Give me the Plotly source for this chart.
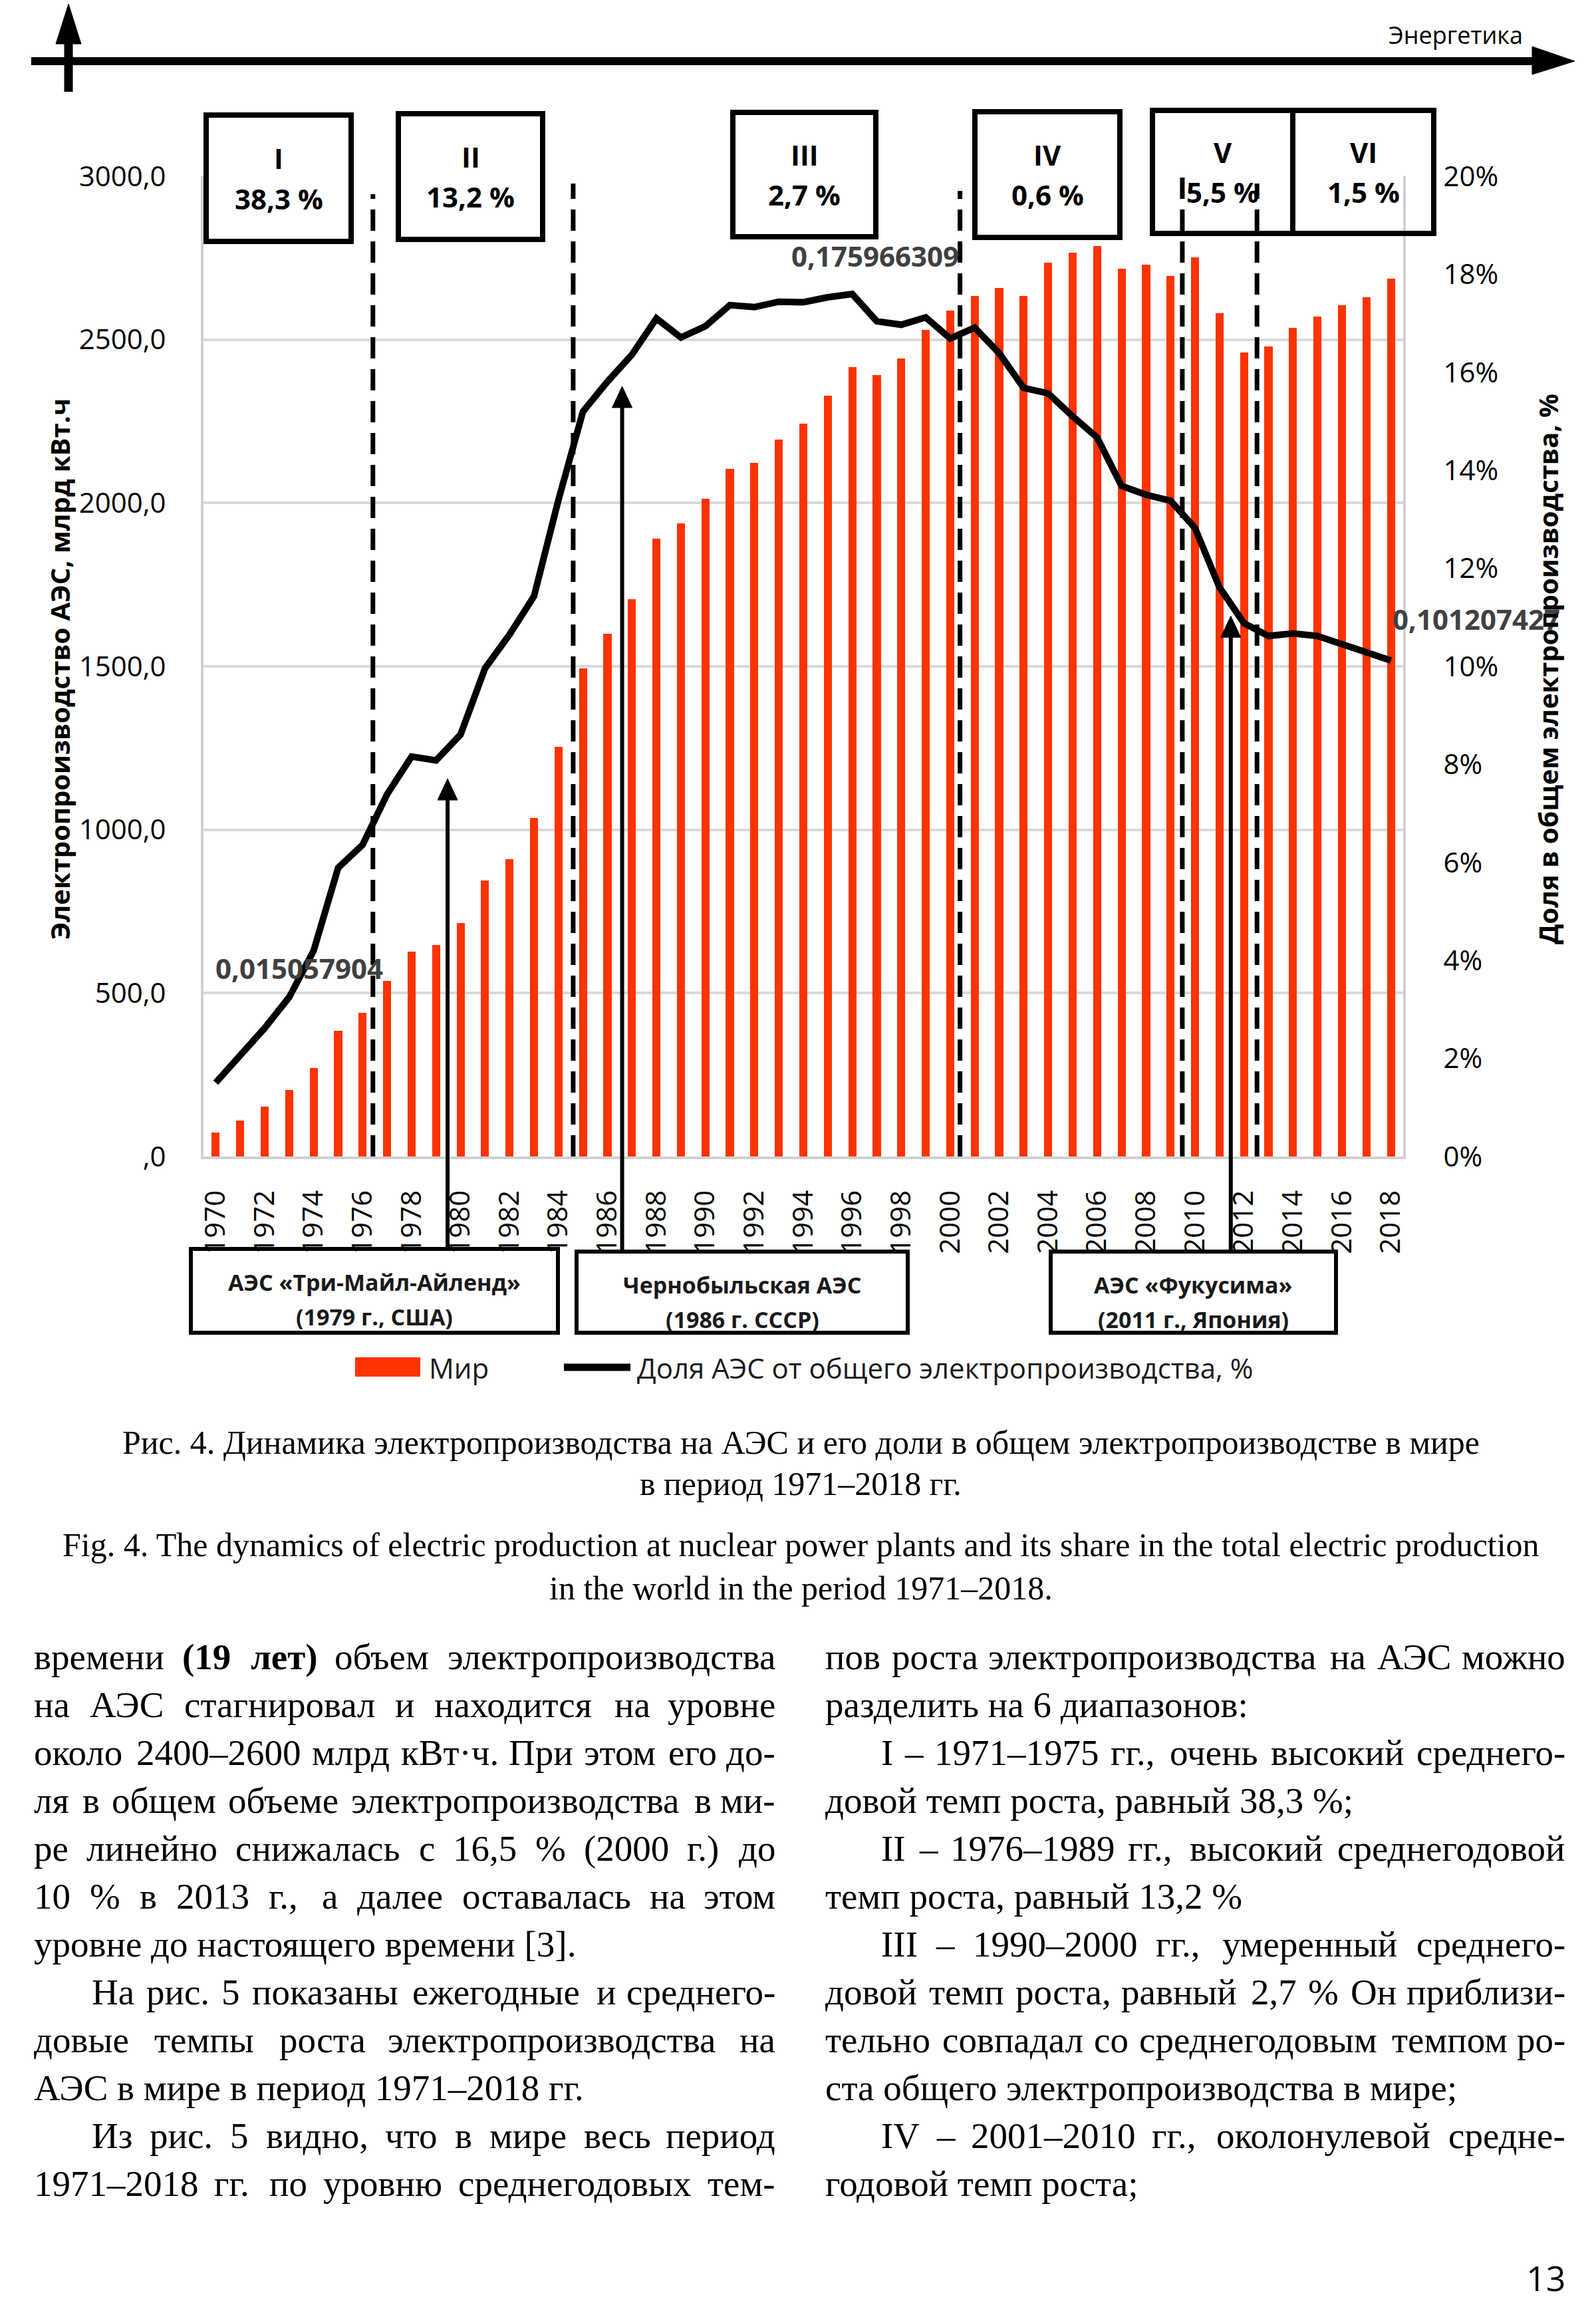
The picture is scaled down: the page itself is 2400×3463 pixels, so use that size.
import plotly.graph_objects as go

# ---------------- data ----------------
years = list(range(1970, 2019))
production = [74, 110, 153, 204, 271, 384, 440, 538, 626, 648,
              714, 844, 909, 1036, 1253, 1494, 1600, 1705, 1891, 1937,
              2012, 2105, 2123, 2194, 2243, 2329, 2415, 2391, 2443, 2530,
              2588, 2633, 2658, 2633, 2735, 2765, 2787, 2717, 2729, 2695,
              2752, 2580, 2460, 2478, 2535, 2570, 2606, 2630, 2687]
share = [0.01506, 0.0208, 0.0262, 0.0325, 0.0420, 0.0589, 0.0636, 0.0739, 0.0816, 0.0808,
         0.0861, 0.0996, 0.1065, 0.1143, 0.1340, 0.1520, 0.1581, 0.1636, 0.1710, 0.1671,
         0.1694, 0.1737, 0.1733, 0.1744, 0.1743, 0.1753, 0.17597, 0.1704, 0.1697, 0.1712,
         0.1669, 0.1691, 0.1639, 0.1568, 0.1557, 0.1510, 0.1467, 0.1368, 0.1350, 0.1338,
         0.1282, 0.1161, 0.1088, 0.1062, 0.1067, 0.1062, 0.1045, 0.1028, 0.1012]

left_tickvals = [0, 500, 1000, 1500, 2000, 2500, 3000]
left_ticktext = [",0", "500,0", "1000,0", "1500,0", "2000,0", "2500,0", "3000,0"]
right_tickvals = [0, 0.02, 0.04, 0.06, 0.08, 0.10, 0.12, 0.14, 0.16, 0.18, 0.20]
right_ticktext = ["0%", "2%", "4%", "6%", "8%", "10%", "12%", "14%", "16%", "18%", "20%"]
year_ticks = list(range(1970, 2019, 2))

period_names = ["I", "II", "III", "IV", "V", "VI"]
period_rates = ["38,3 %", "13,2 %", "2,7 %", "0,6 %", "5,5 %", "1,5 %"]
period_bounds = [1976.42, 1984.6, 2000.4, 2009.48, 2012.53]

event_line1 = ["АЭС «Три-Майл-Айленд»", "Чернобыльская АЭС", "АЭС «Фукусима»"]
event_line2 = ["(1979 г., США)", "(1986 г. СССР)", "(2011 г., Япония)"]
event_arrow_x = [1979.47, 1986.6, 2011.46]
event_arrow_tip = [1156, 2357, 1654]

data_labels = ["0,015057904", "0,175966309", "0,101207427"]

left_text = [
    ("времени <b>(19 лет)</b> объем электропроизводства", False, True),
    ("на АЭС стагнировал и находится на уровне", False, True),
    ("около 2400–2600 млрд кВт·ч. При этом его до-", False, True),
    ("ля в общем объеме электропроизводства в ми-", False, True),
    ("ре линейно снижалась с 16,5 % (2000 г.) до", False, True),
    ("10 % в 2013 г., а далее оставалась на этом", False, True),
    ("уровне до настоящего времени [3].", False, False),
    ("На рис. 5 показаны ежегодные и среднего-", True, True),
    ("довые темпы роста электропроизводства на", False, True),
    ("АЭС в мире в период 1971–2018 гг.", False, False),
    ("Из рис. 5 видно, что в мире весь период", True, True),
    ("1971–2018 гг. по уровню среднегодовых тем-", False, True),
]
right_text = [
    ("пов роста электропроизводства на АЭС можно", False, True),
    ("разделить на 6 диапазонов:", False, False),
    ("I – 1971–1975 гг., очень высокий среднего-", True, True),
    ("довой темп роста, равный 38,3 %;", False, False),
    ("II – 1976–1989 гг., высокий среднегодовой", True, True),
    ("темп роста, равный 13,2 %", False, False),
    ("III – 1990–2000 гг., умеренный среднего-", True, True),
    ("довой темп роста, равный 2,7 % Он приблизи-", False, True),
    ("тельно совпадал со среднегодовым темпом ро-", False, True),
    ("ста общего электропроизводства в мире;", False, False),
    ("IV – 2001–2010 гг., околонулевой средне-", True, True),
    ("годовой темп роста;", False, False),
]

# ---------------- geometry helpers ----------------
W, H = 2400, 3463
L, R, T, B = 306, 2110, 265, 1739


def px(x):
    return (x - L) / (R - L)


def py(y):
    return (B - y) / (B - T)


def yrx(yr):
    return (yr - 1969.5) / 49.0


def valy(v):
    return v / 3000.0


SANS = "Open Sans"
SERIF = "Liberation Serif"
RED = "#FF3300"

fig = go.Figure()
fig.add_trace(go.Bar(x=years, y=production, width=0.33, marker=dict(color=RED, line=dict(width=0)),
                     name="Мир", showlegend=False))
fig.add_trace(go.Scatter(x=years, y=share, yaxis="y2", mode="lines",
                         line=dict(color="black", width=10),
                         name="Доля АЭС от общего электропроизводства, %", showlegend=False))

shapes = []
ann = []

# dashed period boundaries
dash_tops = [292, 276, 287, 267, 276]
for b, top in zip(period_bounds, dash_tops):
    shapes.append(dict(type="line", xref="paper", yref="paper", x0=yrx(b), x1=yrx(b),
                       y0=0, y1=py(top), line=dict(color="black", width=7, dash="32px,16px"),
                       layer="above"))

# period boxes
boxes = [(310, 173, 528, 363), (599, 171, 816, 360), (1102, 169, 1317, 356),
         (1466, 168, 1684, 357), (1733, 166, 1944, 351), (1944, 166, 2156, 351)]
for (x0, y0, x1, y1), nm, rt in zip(boxes, period_names, period_rates):
    shapes.append(dict(type="rect", xref="paper", yref="paper", x0=px(x0), x1=px(x1),
                       y0=py(y1), y1=py(y0), line=dict(color="black", width=8),
                       fillcolor="rgba(0,0,0,0)", layer="above"))
    h = y1 - y0
    cx = (x0 + x1) / 2
    ann.append(dict(text="<b>%s</b>" % nm, x=px(cx), y=py(y0 + 0.34 * h), xref="paper", yref="paper",
                    showarrow=False, xanchor="center", yanchor="middle",
                    font=dict(family=SANS, size=42, color="black")))
    ann.append(dict(text="<b>%s</b>" % rt, x=px(cx), y=py(y0 + 0.66 * h), xref="paper", yref="paper",
                    showarrow=False, xanchor="center", yanchor="middle",
                    font=dict(family=SANS, size=42, color="black")))

# event boxes and arrows
ev_boxes = [(287, 1878, 839, 2004), (867, 1882, 1365, 2004), (1580, 1882, 2009, 2004)]
for (x0, y0, x1, y1), t1, t2, ax, tip in zip(ev_boxes, event_line1, event_line2,
                                              event_arrow_x, event_arrow_tip):
    shapes.append(dict(type="rect", xref="paper", yref="paper", x0=px(x0), x1=px(x1),
                       y0=py(y1), y1=py(y0), line=dict(color="black", width=6),
                       fillcolor="rgba(0,0,0,0)"))
    cx = (x0 + x1) / 2
    ann.append(dict(text="<b>%s</b>" % t1, x=px(cx), y=py(y0 + 50), xref="paper", yref="paper",
                    showarrow=False, xanchor="center", yanchor="middle",
                    font=dict(family=SANS, size=34, color="#1a1a1a")))
    ann.append(dict(text="<b>%s</b>" % t2, x=px(cx), y=py(y0 + 102), xref="paper", yref="paper",
                    showarrow=False, xanchor="center", yanchor="middle",
                    font=dict(family=SANS, size=34, color="#1a1a1a")))
    xa = yrx(ax)
    tip_y = valy(tip)
    head = 32 / (B - T)
    half = 15 / (R - L)
    shapes.append(dict(type="line", xref="paper", yref="paper", x0=xa, x1=xa,
                       y0=py(y0 + 2), y1=tip_y - head * 0.9, line=dict(color="black", width=6),
                       layer="above"))
    shapes.append(dict(type="path", xref="paper", yref="paper",
                       path="M %f,%f L %f,%f L %f,%f Z" % (xa - half, tip_y - head, xa, tip_y,
                                                           xa + half, tip_y - head),
                       fillcolor="black", line=dict(color="black", width=1), layer="above"))

# top header decoration
shapes.append(dict(type="line", xref="paper", yref="paper", x0=px(47), x1=px(2312),
                   y0=py(92), y1=py(92), line=dict(color="black", width=12)))
shapes.append(dict(type="path", xref="paper", yref="paper",
                   path="M %f,%f L %f,%f L %f,%f Z" % (px(2304), py(70), px(2368), py(92), px(2304), py(112)),
                   fillcolor="black", line=dict(color="black", width=1)))
shapes.append(dict(type="line", xref="paper", yref="paper", x0=px(103), x1=px(103),
                   y0=py(138), y1=py(60), line=dict(color="black", width=13)))
shapes.append(dict(type="path", xref="paper", yref="paper",
                   path="M %f,%f L %f,%f L %f,%f Z" % (px(84), py(66), px(103), py(6), px(122), py(66)),
                   fillcolor="black", line=dict(color="black", width=1)))
ann.append(dict(text="Энергетика", x=px(2189), y=py(53), xref="paper", yref="paper", showarrow=False,
                xanchor="center", yanchor="middle", font=dict(family=SANS, size=36, color="black")))

# data labels
for txt, (cx, cy) in zip(data_labels, [(450, 1455), (1316, 385), (2220, 930)]):
    ann.append(dict(text="<b>%s</b>" % txt, x=px(cx), y=py(cy), xref="paper", yref="paper",
                    showarrow=False, xanchor="center", yanchor="middle",
                    font=dict(family=SANS, size=42, color="#404040")))

# axis titles
ann.append(dict(text="<b>Электропроизводство АЭС, млрд кВт.ч</b>", x=px(89), y=py(1006),
                xref="paper", yref="paper", showarrow=False, textangle=-90,
                xanchor="center", yanchor="middle", font=dict(family=SANS, size=40, color="black")))
ann.append(dict(text="<b>Доля в общем электропроизводства, %</b>", x=px(2327), y=py(1006),
                xref="paper", yref="paper", showarrow=False, textangle=-90,
                xanchor="center", yanchor="middle", font=dict(family=SANS, size=40, color="black")))

# legend (drawn)
shapes.append(dict(type="rect", xref="paper", yref="paper", x0=px(534), x1=px(632),
                   y0=py(2070), y1=py(2041), fillcolor=RED, line=dict(width=0)))
shapes.append(dict(type="line", xref="paper", yref="paper", x0=px(848), x1=px(948),
                   y0=py(2056), y1=py(2056), line=dict(color="black", width=11)))
ann.append(dict(text="Мир", x=px(643), y=py(2056), xref="paper", yref="paper", showarrow=False,
                xanchor="left", yanchor="middle", font=dict(family=SANS, size=42, color="#1a1a1a")))
ann.append(dict(text="Доля АЭС от общего электропроизводства, %", x=px(956), y=py(2056),
                xref="paper", yref="paper", showarrow=False,
                xanchor="left", yanchor="middle", font=dict(family=SANS, size=42, color="#1a1a1a")))

# captions
CAP = 50
captions = [
    ("Рис. 4. Динамика электропроизводства на АЭС и его доли в общем электропроизводстве в мире", 2186),
    ("в период 1971–2018 гг.", 2248),
    ("Fig. 4. The dynamics of electric production at nuclear power plants and its share in the total electric production", 2340),
    ("in the world in the period 1971–2018.", 2405),
]
for txt, base in captions:
    ann.append(dict(text=txt, x=px(1204), y=py(base - 0.34 * CAP), xref="paper", yref="paper",
                    showarrow=False, xanchor="center", yanchor="middle",
                    font=dict(family=SERIF, size=CAP, color="black")))

# body text with approximate justification
CW = {}
for ch, w in {"а": .444, "б": .5, "в": .472, "г": .41, "д": .5, "е": .444, "ж": .691, "з": .395,
              "и": .535, "й": .535, "к": .486, "л": .5, "м": .628, "н": .535, "о": .5, "п": .535,
              "р": .5, "с": .444, "т": .437, "у": .5, "ф": .648, "х": .5, "ц": .535, "ч": .503,
              "ш": .785, "щ": .785, "ъ": .524, "ы": .727, "ь": .47, "э": .438, "ю": .74, "я": .491,
              "А": .722, "Э": .667, "С": .667, "Н": .722, "И": .722, "П": .722, "О": .722, "I": .333,
              "В": .667, "Д": .66, "Ж": .96, "Ч": .68, "Я": .66, "Ф": .78, "Г": .578,
              "V": .722, " ": .25, ",": .25, ".": .25, "(": .333, ")": .333, "–": .5, "-": .333,
              "%": .833, ":": .278, ";": .278, "[": .333, "]": .333, "·": .3}.items():
    CW[ch] = w


def wlen(word, size, bold=False):
    s = word.replace("<b>", "").replace("</b>", "")
    w = sum(CW.get(c, 0.5) for c in s) * size
    return w * (1.04 if bold else 1.0)


BODY = 55
LINE0 = 2510
LSTEP = 72.0


def body_column(lines, left, right, indent):
    for i, (txt, ind, just) in enumerate(lines):
        base = LINE0 + i * LSTEP
        cy = base - 0.34 * BODY
        x0 = left + (indent if ind else 0)
        if not just:
            ann.append(dict(text=txt, x=px(x0), y=py(cy), xref="paper", yref="paper", showarrow=False,
                            xanchor="left", yanchor="middle",
                            font=dict(family=SERIF, size=BODY, color="black")))
            continue
        words = []
        bold = False
        for wd in txt.split(" "):
            b = bold or wd.startswith("<b>")
            if wd.startswith("<b>"):
                bold = True
            if wd.endswith("</b>"):
                bold = False
            words.append((wd, b))
        fixed = []
        for wd, b in words:
            if wd.startswith("<b>") and not wd.endswith("</b>"):
                fixed.append(wd + "</b>")
            elif wd.endswith("</b>") and not wd.startswith("<b>"):
                fixed.append("<b>" + wd)
            elif b and not wd.startswith("<b>"):
                fixed.append("<b>" + wd + "</b>")
            else:
                fixed.append(wd)
        widths = [wlen(wd, BODY, "<b>" in wd) for wd in fixed]
        total = sum(widths)
        gap = (right - x0 - total) / max(len(fixed) - 1, 1)
        gap = max(gap, 0.22 * BODY)
        cur = x0
        for j, (wd, w) in enumerate(zip(fixed, widths)):
            if j == len(fixed) - 1:
                ann.append(dict(text=wd, x=px(right), y=py(cy), xref="paper", yref="paper",
                                showarrow=False, xanchor="right", yanchor="middle",
                                font=dict(family=SERIF, size=BODY, color="black")))
            else:
                ann.append(dict(text=wd, x=px(cur), y=py(cy), xref="paper", yref="paper",
                                showarrow=False, xanchor="left", yanchor="middle",
                                font=dict(family=SERIF, size=BODY, color="black")))
            cur += w + gap


body_column(left_text, 49, 1168, 87)
body_column(right_text, 1239, 2356, 84)

ann.append(dict(text="13", x=px(2356), y=py(3424), xref="paper", yref="paper", showarrow=False,
                xanchor="right", yanchor="middle",
                font=dict(family="Liberation Sans Narrow, Open Sans", size=52, color="black")))

fig.update_layout(
    width=W, height=H, autosize=False,
    margin=dict(l=L, r=W - R, t=T, b=H - B, pad=0),
    paper_bgcolor="white", plot_bgcolor="white",
    bargap=0, showlegend=False,
    xaxis=dict(range=[1969.5, 2018.5], tickmode="array", tickvals=year_ticks,
               ticktext=[str(y) for y in year_ticks], tickangle=-90,
               tickfont=dict(family=SANS, size=42, color="black"),
               showgrid=False, zeroline=False, showline=True, linecolor="#d0d0d0", linewidth=4,
               ticks="", ticklabelstandoff=30),
    yaxis=dict(range=[0, 3000], tickmode="array", tickvals=left_tickvals, ticktext=left_ticktext,
               tickfont=dict(family=SANS, size=42, color="black"),
               showgrid=True, gridcolor="#d9d9d9", gridwidth=4, zeroline=False,
               showline=True, linecolor="#d0d0d0", linewidth=4, ticks="", ticklabelstandoff=44),
    yaxis2=dict(range=[0, 0.2], overlaying="y", side="right", tickmode="array",
                tickvals=right_tickvals, ticktext=right_ticktext,
                tickfont=dict(family=SANS, size=42, color="black"),
                showgrid=False, zeroline=False, showline=True, linecolor="#d0d0d0", linewidth=4,
                ticks="", ticklabelstandoff=48),
    shapes=shapes,
    annotations=ann,
)

fig.write_html("out.html",
               config={"displayModeBar": False},
               post_script="document.body.style.margin='0px';"
                           "document.documentElement.style.overflow='hidden';")
